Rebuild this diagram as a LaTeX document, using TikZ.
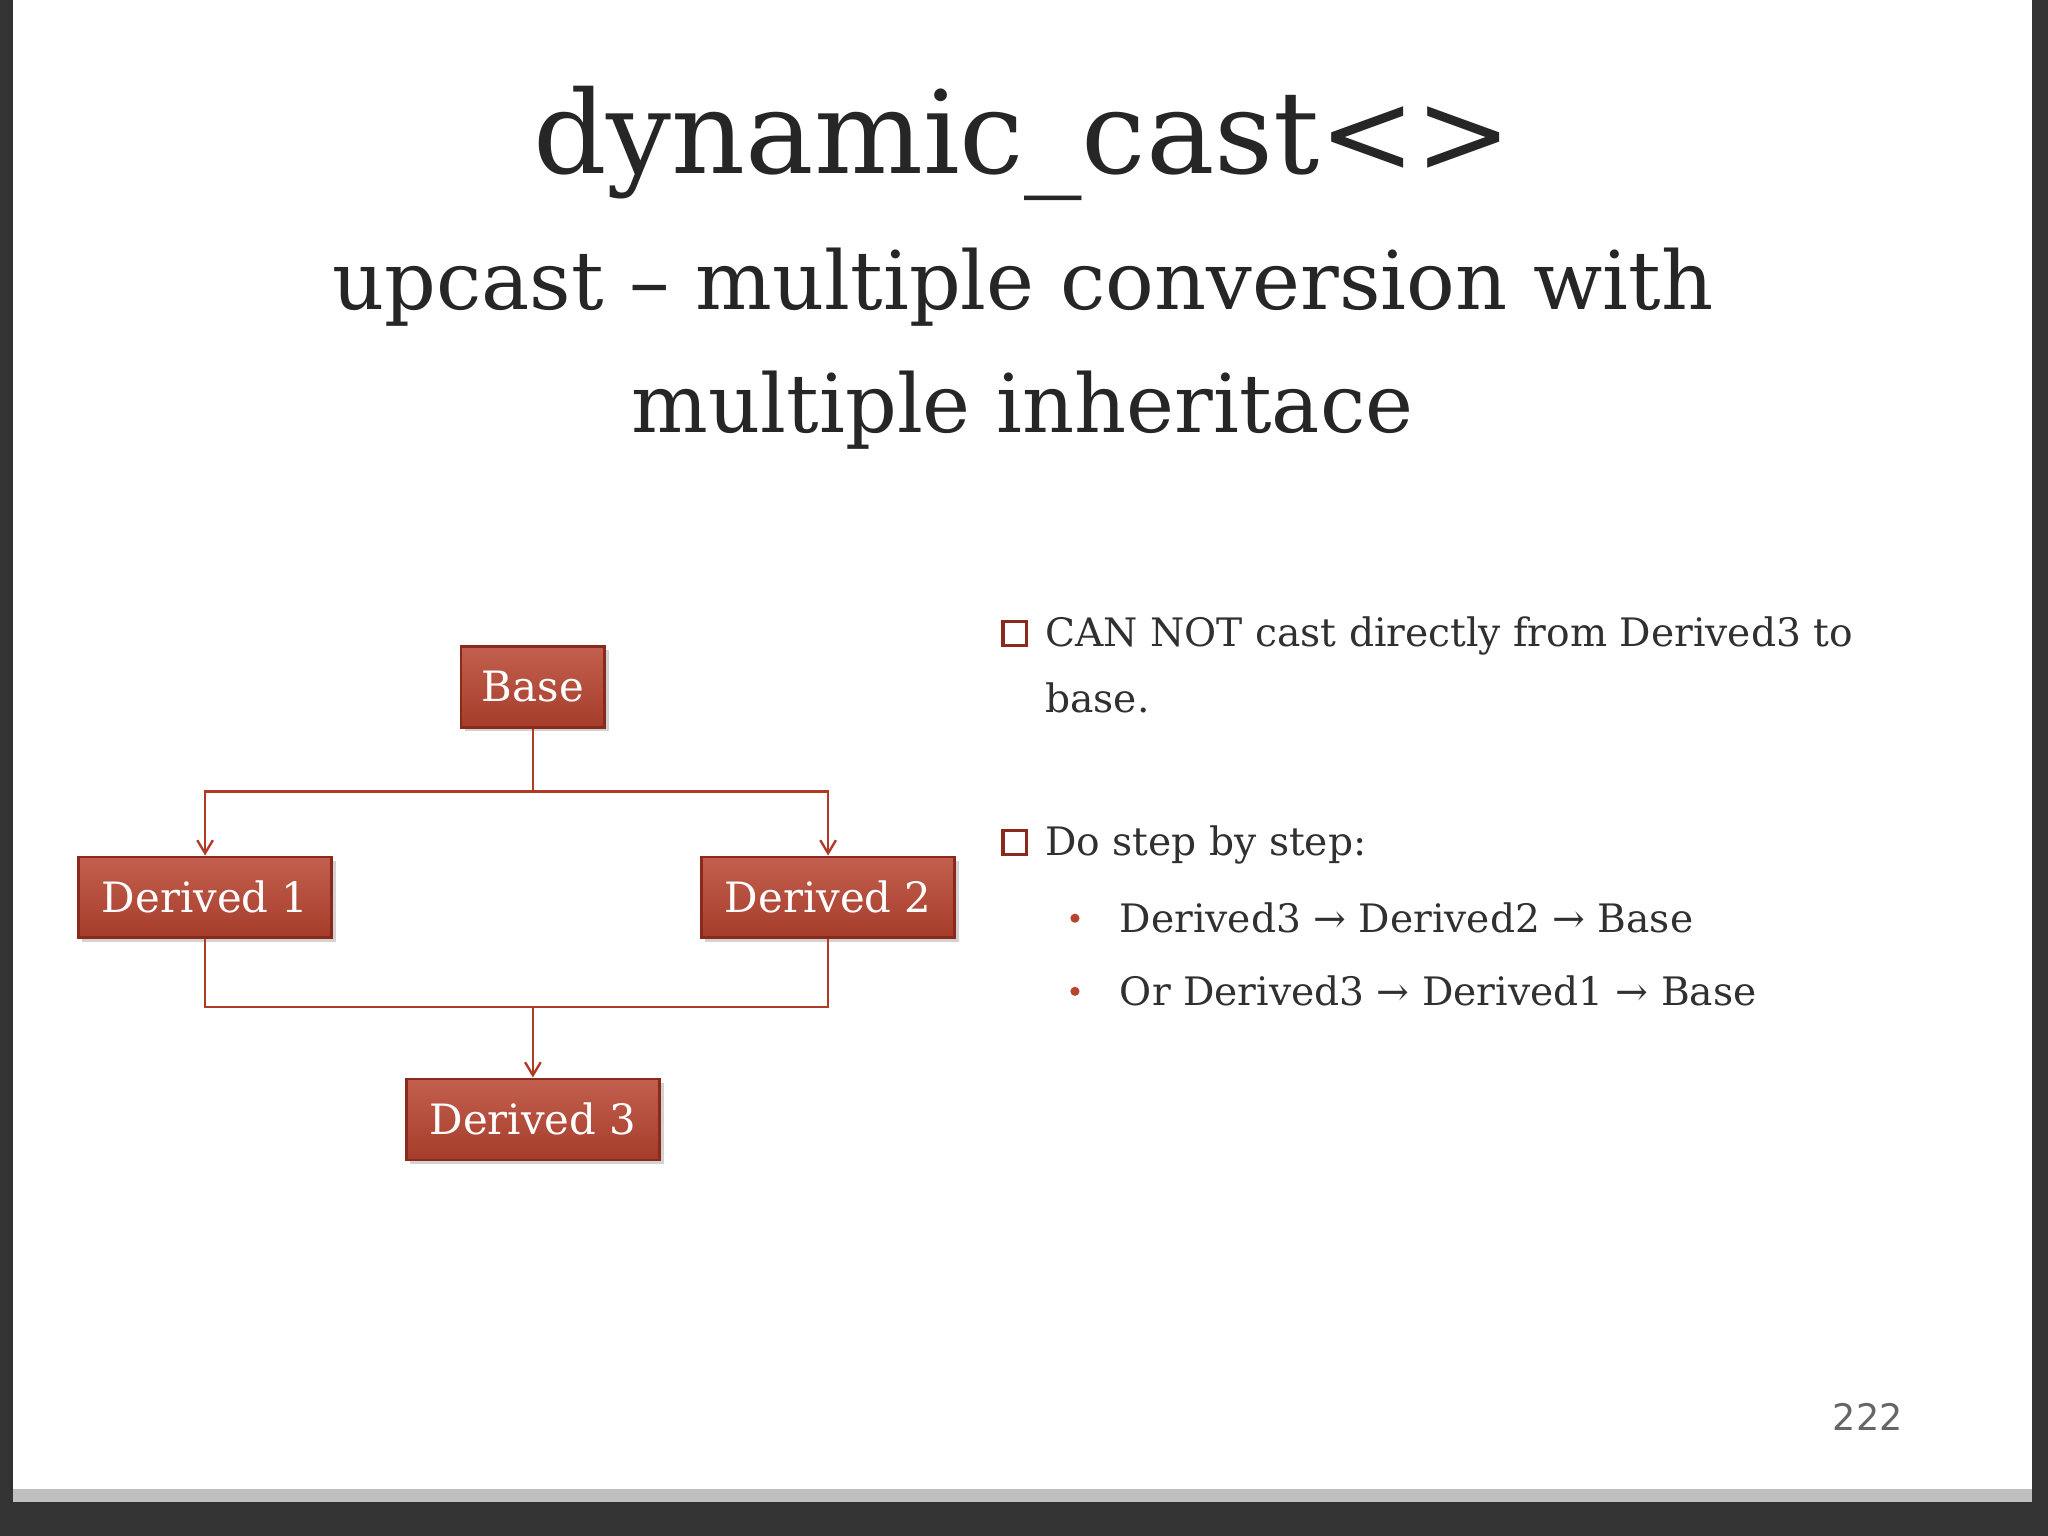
\documentclass[tikz,border=0pt]{standalone}
\usepackage{fontspec}
\setmainfont{DejaVu Serif}
\newfontfamily\numfont{DejaVu Sans}
\usepackage{tikz}
\usetikzlibrary{positioning,arrows.meta,calc,shadows}
\definecolor{boxred}{HTML}{B8432F}
\definecolor{boxedge}{HTML}{8A2A1C}
\definecolor{linered}{HTML}{B03A26}
\definecolor{txtgray}{HTML}{303030}
\tikzset{
  classbox/.style={draw=boxedge,line width=1pt,top color=boxred!85!white,bottom color=boxred!90!black,
    text=white,font=\fontsize{16}{20}\selectfont,minimum height=31pt,inner sep=0pt,
    drop shadow={opacity=0.35,shadow xshift=1.5pt,shadow yshift=-1.5pt}},
  link/.style={draw=linered,line width=0.9pt},
  arr/.style={link,-{Straight Barb[length=5pt,width=6pt]}},
  pointtext/.style={anchor=west,text=txtgray,font=\fontsize{15}{21}\selectfont,inner sep=0pt}
}
\begin{document}
\begin{tikzpicture}[x=0.5pt,y=0.5pt,yscale=-1,xscale=1]

\fill[black!80] (0,0) rectangle (1568,1176);
\fill[white] (10,0) rectangle (1556,1150);
\fill[black!25] (10,1140) rectangle (1556,1150);

% title
\node[font=\fontsize{44}{56}\selectfont,text=black!85] (title) at (783,110) {dynamic\_cast<>};
\node[font=\fontsize{31}{47}\selectfont,text=black!85,align=center] (subtitle) at (783,267)
  {upcast – multiple conversion with\\multiple inheritace};

% boxes
\node[classbox,minimum width=55pt] (base) at (408,526) {Base};
\node[classbox,minimum width=97pt] (der1) at (157,687) {Derived 1};
\node[classbox,minimum width=97pt] (der2) at (634,687) {Derived 2};
\node[classbox,minimum width=97pt] (der3) at (408,857) {Derived 3};

\coordinate (split) at (408,606);
\coordinate (join) at (408,771);

\draw[link] (base.south) -- (split);
\draw[arr] (split) -| (der1.north);
\draw[arr] (split) -| (der2.north);
\draw[link] (der1.south) |- (join);
\draw[link] (der2.south) |- (join);
\draw[arr] (join) -- (der3.north);

% points
\node[draw=boxedge,line width=1.3pt,minimum size=9pt,inner sep=0pt] (sq1) at (777,485) {};
\node[pointtext] (p1) at (800,487) {CAN NOT cast directly from Derived3 to};
\node[pointtext] (p1b) at (800,534) {base.};
\node[draw=boxedge,line width=1.3pt,minimum size=9pt,inner sep=0pt] (sq2) at (777,645) {};
\node[pointtext] (p2) at (800,647) {Do step by step:};
\fill[boxred] (823,703) circle (3.5) coordinate (b1);
\node[pointtext] (p3) at (857,703) {Derived3 → Derived2 → Base};
\fill[boxred] (823,759) circle (3.5) coordinate (b2);
\node[pointtext] (p4) at (857,759) {Or Derived3 → Derived1 → Base};

\node[font=\numfont\fontsize{14}{16}\selectfont,text=black!60] (page) at (1430,1085) {222};

\end{tikzpicture}
\end{document}
